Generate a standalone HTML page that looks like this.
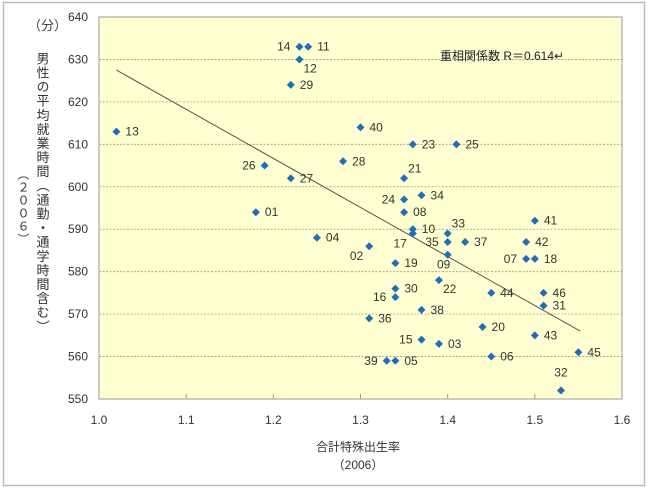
<!DOCTYPE html>
<html><head><meta charset="utf-8"><style>
body{margin:0;background:#fff;width:649px;height:490px;overflow:hidden;font-family:"Liberation Sans","Noto Sans CJK JP",sans-serif;}
svg text{font-family:"Liberation Sans","Noto Sans CJK JP",sans-serif;}
</style></head><body>
<svg id="chart" width="649" height="490">
<rect x="3.5" y="2.5" width="641" height="483" fill="#fff" stroke="#bbb" stroke-width="1.5"/>
<rect x="99" y="17" width="523" height="382" fill="#ffffd2" stroke="#999"/>
<g id="grid"></g><g id="axes"></g><g id="marks"></g>
<text x="28" y="30" font-size="13" fill="#444">（分）</text>
<text x="440" y="60" font-size="12" fill="#222">重相関係数 R＝0.614↵</text>
<text x="358" y="451" font-size="12" fill="#333" text-anchor="middle">合計特殊出生率</text>
<text x="358" y="469" font-size="12" fill="#333" text-anchor="middle">（2006）</text>
<text x="42" y="52" font-size="13" fill="#333" style="writing-mode:vertical-rl;letter-spacing:1.1px">男性の平均就業時間（通勤・通学時間含む）</text>
<text x="23" y="168" font-size="12" fill="#333" style="writing-mode:vertical-rl;letter-spacing:1px">（２００６）</text>
</svg>
<script>
const xTicks=[1.0,1.1,1.2,1.3,1.4,1.5,1.6];
const yTicks=[550,560,570,580,590,600,610,620,630,640];
const prefs=["14","11","12","29","13","26","27","01","40","23","25","28","21","24","34","08","10","17","33","35","37","41","42","07","18","09","04","02","19","22","30","16","44","46","31","38","36","20","43","15","03","45","06","39","05","32"];
const rates=[1.23,1.24,1.23,1.22,1.02,1.19,1.22,1.18,1.30,1.36,1.41,1.28,1.35,1.35,1.37,1.35,1.36,1.36,1.40,1.40,1.42,1.50,1.49,1.49,1.50,1.40,1.25,1.31,1.34,1.39,1.34,1.34,1.45,1.51,1.51,1.37,1.31,1.44,1.50,1.37,1.39,1.55,1.45,1.33,1.34,1.53];
const hours=[633,633,630,624,613,605,602,594,614,610,610,606,602,597,598,594,590,589,589,587,587,592,587,583,583,584,588,586,582,578,576,574,575,575,572,571,569,567,565,564,563,561,560,559,559,552];
const labelSide=["l","r","br","r","r","l","r","r","r","r","r","r","tr","l","r","r","r","bl","tr","l","r","r","r","l","r","b","r","bl","r","br","r","l","r","r","r","r","r","r","r","l","r","r","r","l","r","t"];
const trendX=[1.02,1.552];
const trendY=[627.5,566];
const NS="http://www.w3.org/2000/svg";
const X=v=>99+(v-1.0)/0.6*523;
const Y=v=>399-(v-550)/90*382;
function mk(t,a,p){const e=document.createElementNS(NS,t);for(const k in a)e.setAttribute(k,a[k]);p.appendChild(e);return e;}
const grid=document.getElementById('grid'),axes=document.getElementById('axes'),marks=document.getElementById('marks');
yTicks.forEach(v=>{
 if(v>550&&v<640){const l=mk('line',{x1:99,x2:622,y1:Y(v),y2:Y(v),stroke:'#a89c70','stroke-dasharray':'2,1.5','stroke-width':0.8},grid);
 }
 const t=mk('text',{x:88,y:Y(v)+4,'font-size':12,'text-anchor':'end',fill:'#333'},axes);t.textContent=v;
 
});
xTicks.forEach(v=>{
 const l=mk('line',{x1:X(v),x2:X(v),y1:399,y2:394,stroke:'#999'},axes);
 
 const t=mk('text',{x:X(v),y:424,'font-size':12,'text-anchor':'middle',fill:'#333'},axes);t.textContent=v.toFixed(1);
 
});
const tl=mk('line',{x1:X(trendX[0]),y1:Y(trendY[0]),x2:X(trendX[1]),y2:Y(trendY[1]),stroke:'#555','stroke-width':1},marks);

prefs.forEach((p,i)=>{
 const cx=X(rates[i]),cy=Y(hours[i]);
 const d=mk('path',{d:`M${cx} ${cy-4}L${cx+4} ${cy}L${cx} ${cy+4}L${cx-4} ${cy}Z`,fill:'#1f6fb8'},marks);
 
 const s=labelSide[i];let tx=cx+9,ty=cy+4,an='start';
 if(s==='l'){tx=cx-9;an='end';}
 if(s==='br'){tx=cx+4;ty=cy+13;}
 if(s==='tr'){tx=cx+4;ty=cy-6;}
 if(s==='bl'){tx=cx-6;ty=cy+14;an='end';}
 if(s==='b'){tx=cx-4;ty=cy+14;an='middle';}
 if(s==='t'){tx=cx;ty=cy-14;an='middle';}
 const t=mk('text',{x:tx,y:ty,'font-size':12,'text-anchor':an,fill:'#333'},marks);t.textContent=p;
 
});
</script>
</body></html>
